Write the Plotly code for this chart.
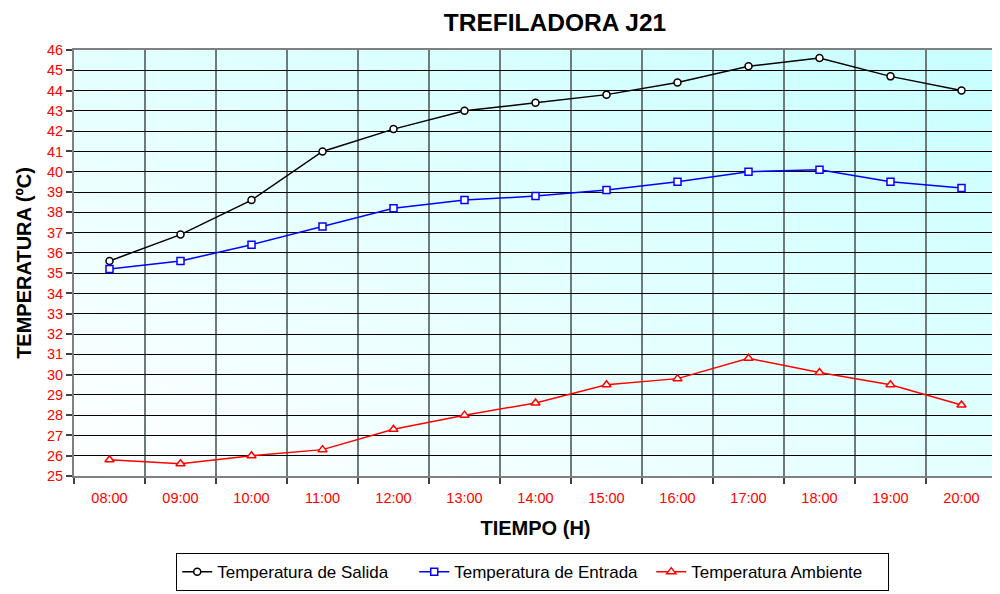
import base64
import plotly.graph_objects as go

horas = ["08:00", "09:00", "10:00", "11:00", "12:00", "13:00", "14:00",
         "15:00", "16:00", "17:00", "18:00", "19:00", "20:00"]
salida = [35.6, 36.9, 38.6, 41.0, 42.1, 43.0, 43.4, 43.8, 44.4, 45.2, 45.6, 44.7, 44.0]
entrada = [35.2, 35.6, 36.4, 37.3, 38.2, 38.6, 38.8, 39.1, 39.5, 40.0, 40.1, 39.5, 39.2]
ambiente = [25.8, 25.6, 26.0, 26.3, 27.3, 28.0, 28.6, 29.5, 29.8, 30.8, 30.1, 29.5, 28.5]
y_ticks = list(range(25, 47))

pos = list(range(len(horas)))

# fondo degradado (blanco abajo-izquierda -> cian arriba-derecha)
svg = ('<svg xmlns="http://www.w3.org/2000/svg" width="100" height="100" preserveAspectRatio="none">'
       '<defs><linearGradient id="g" x1="0" y1="1" x2="1" y2="0">'
       '<stop offset="0" stop-color="#ffffff"/><stop offset="1" stop-color="#c8ffff"/>'
       '</linearGradient></defs><rect width="100" height="100" fill="url(#g)"/></svg>')
bg_src = "data:image/svg+xml;base64," + base64.b64encode(svg.encode()).decode()

fig = go.Figure()
fig.add_scatter(x=pos, y=salida, name="Temperatura de Salida", mode="lines+markers",
                line=dict(color="black", width=1.5),
                marker=dict(symbol="circle", size=7, color="white",
                            line=dict(color="black", width=1.5)))
fig.add_scatter(x=pos, y=entrada, name="Temperatura de Entrada", mode="lines+markers",
                line=dict(color="blue", width=1.5),
                marker=dict(symbol="square", size=7, color="white",
                            line=dict(color="blue", width=1.5)))
fig.add_scatter(x=pos, y=ambiente, name="Temperatura Ambiente", mode="lines+markers",
                line=dict(color="red", width=1.5),
                marker=dict(symbol="triangle-up", size=8, color="white",
                            line=dict(color="red", width=1.5)))

fig.add_layout_image(source=bg_src, xref="paper", yref="paper", x=0, y=1,
                     sizex=1, sizey=1, sizing="stretch", layer="below",
                     xanchor="left", yanchor="top")

# la página añade 8px de margen al body: se compensa aquí
fig.update_layout(
    width=1000, height=594,
    margin=dict(l=66, r=11, t=42, b=117),
    paper_bgcolor="white",
    plot_bgcolor="rgba(0,0,0,0)",
    font=dict(family="Liberation Sans, Arial, sans-serif", color="black"),
    title=dict(text="<b>TREFILADORA J21</b>", font=dict(size=24.5, color="black"),
               xref="container", x=0.547, xanchor="center",
               yref="container", y=0.9756, yanchor="middle"),
    showlegend=True,
    legend=dict(orientation="h", x=0.497, xanchor="center", y=-0.181, yanchor="top",
                bordercolor="black", borderwidth=1, bgcolor="white",
                font=dict(size=17, color="black"), itemwidth=30,
                entrywidth=192, entrywidthmode="pixels",
                tracegroupgap=0),
)

fig.update_xaxes(
    range=[-0.5, len(horas) - 0.5], automargin=False,
    tickvals=pos, ticktext=horas,
    ticks="outside", ticklen=8, tickcolor="rgba(0,0,0,0)",
    tickfont=dict(size=14.5, color="red"),
    showgrid=False, zeroline=False,
    showline=True, linecolor="#808080", linewidth=2, mirror=True,
    minor=dict(tick0=-0.5, dtick=1, showgrid=True, gridcolor="#6e7b7b", gridwidth=1.5,
               ticks="outside", ticklen=6, tickcolor="#404040", tickwidth=1.5),
    title=dict(text="<b>TIEMPO (H)</b>", font=dict(size=20, color="black"), standoff=16),
)
fig.update_yaxes(
    range=[25, 46], tickvals=y_ticks, automargin=False,
    tickfont=dict(size=14.5, color="red"),
    ticks="outside", ticklen=6, tickcolor="#404040", tickwidth=1.5,
    showgrid=True, gridcolor="black", gridwidth=1.2, zeroline=False,
    showline=True, linecolor="#808080", linewidth=2, mirror=True,
    title=dict(text="<b>TEMPERATURA (ºC)</b>", font=dict(size=20, color="black"), standoff=10),
)

fig.write_html("out.html")
